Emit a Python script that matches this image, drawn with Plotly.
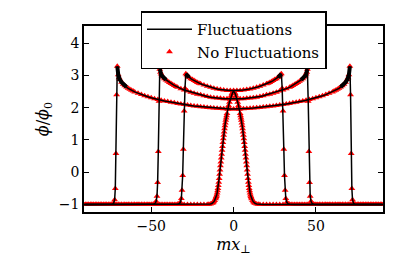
import plotly.graph_objects as go

# Half profiles (x >= 0), mirrored to negative x.
C0_X = [0, 0.5, 1, 1.5, 2, 2.5, 3, 3.5,
        4, 4.25, 4.5, 4.75, 5, 5.25, 5.5, 5.75, 6, 6.25, 6.5, 6.75, 7, 7.25, 7.5, 7.75,
        8, 8.25, 8.5, 8.75, 9, 9.25, 9.5, 9.75, 10, 10.25, 10.5, 10.75, 11,
        11.5, 12, 12.5, 13, 14, 15, 16,
        18, 20, 22, 24, 26, 28, 30, 32, 34, 36, 38, 40, 42, 44, 46, 48, 50, 52, 54,
        56, 58, 60, 62, 64, 66, 68, 70, 72, 74, 76, 78, 80, 82, 84, 86, 88, 90]
C0_Y = [2.50, 2.48, 2.43, 2.36, 2.27, 2.17, 2.07, 1.95,
        1.82, 1.75, 1.68, 1.61, 1.53, 1.44, 1.35, 1.25, 1.15, 1.04, 0.92, 0.80, 0.68, 0.56, 0.44, 0.32,
        0.20, 0.07, -0.06, -0.19, -0.31, -0.41, -0.50, -0.57, -0.64, -0.70, -0.75, -0.79, -0.82,
        -0.87, -0.91, -0.94, -0.96, -0.98, -0.99, -1.0,
        -1.0, -1.0, -1.0, -1.0, -1.0, -1.0, -1.0, -1.0, -1.0, -1.0, -1.0, -1.0, -1.0, -1.0, -1.0, -1.0, -1.0, -1.0, -1.0,
        -1.0, -1.0, -1.0, -1.0, -1.0, -1.0, -1.0, -1.0, -1.0, -1.0, -1.0, -1.0, -1.0, -1.0, -1.0, -1.0, -1.0, -1.0]

R30_X = [0, 2, 4, 6, 8, 10, 12, 14, 16, 18, 20,
         21, 22, 23, 24, 25, 26, 27,
         27.5, 28, 28.5, 29.0,
         29.5, 30.0, 30.5, 30.9, 31.3, 31.7, 32.3, 33, 34, 35,
         37, 39, 41, 43, 45, 47, 49, 51, 53, 55, 57, 59, 61, 63, 65, 67, 69, 71, 73, 75,
         77, 79, 81, 83, 85, 87, 89, 91]
R30_Y = [2.53, 2.53, 2.535, 2.545, 2.56, 2.58, 2.60, 2.63, 2.665, 2.70, 2.74,
         2.76, 2.78, 2.81, 2.84, 2.87, 2.90, 2.94,
         2.96, 2.99, 3.02, 3.05,
         2.6, 1.9, 0.71, -0.1, -0.56, -0.81, -0.93, -0.97, -0.99, -1.0,
         -1.0, -1.0, -1.0, -1.0, -1.0, -1.0, -1.0, -1.0, -1.0, -1.0, -1.0, -1.0, -1.0, -1.0, -1.0, -1.0, -1.0, -1.0, -1.0, -1.0,
         -1.0, -1.0, -1.0, -1.0, -1.0, -1.0, -1.0, -1.0]

R45_X = [0, 2, 4, 6, 8, 10, 12, 14, 16, 18, 20, 22, 24, 26, 28, 30, 32, 34,
         35, 36, 37, 38, 39, 40, 41, 42, 43,
         43.5, 44, 44.4, 44.8,
         45.3, 45.7, 46.1, 46.5, 47.0, 47.6, 48.5,
         50, 52, 54, 56, 58, 60, 62, 64, 66, 68, 70, 72, 74, 76, 78, 80, 82, 84, 86, 88, 90]
R45_Y = [2.27, 2.27, 2.275, 2.28, 2.29, 2.30, 2.31, 2.325, 2.345, 2.37, 2.40, 2.42, 2.45, 2.48, 2.52, 2.55, 2.59, 2.63,
         2.66, 2.69, 2.72, 2.75, 2.78, 2.82, 2.86, 2.90, 2.95,
         2.99, 3.04, 3.10, 3.19,
         2.2, 0.64, -0.32, -0.74, -0.9, -0.96, -0.99,
         -1.0, -1.0, -1.0, -1.0, -1.0, -1.0, -1.0, -1.0, -1.0, -1.0, -1.0, -1.0, -1.0, -1.0, -1.0, -1.0, -1.0, -1.0, -1.0, -1.0, -1.0]

R72_X = [0, 2, 4, 6, 8, 10, 12, 14, 16, 18, 20, 22, 24, 26, 28, 30, 32, 34, 36, 38, 40,
         42, 44, 46, 48, 50, 52, 54, 56, 58, 60,
         61, 62, 63, 64, 65, 66, 67, 68, 69,
         69.5, 70, 70.6,
         71.0, 71.4, 71.8, 72.2, 72.8, 73.5,
         75, 77, 79, 81, 83, 85, 87, 89, 91]
R72_Y = [1.96, 1.96, 1.965, 1.97, 1.975, 1.98, 1.99, 2.0, 2.01, 2.02, 2.03, 2.045, 2.055, 2.07, 2.085, 2.10,
         2.115, 2.13, 2.15, 2.17, 2.19,
         2.21, 2.23, 2.255, 2.28, 2.31, 2.34, 2.37, 2.405, 2.45, 2.49,
         2.515, 2.54, 2.57, 2.60, 2.64, 2.68, 2.73, 2.79, 2.87,
         2.93, 3.02, 3.28,
         2.4, 0.58, -0.5, -0.85, -0.96, -0.99,
         -1.0, -1.0, -1.0, -1.0, -1.0, -1.0, -1.0, -1.0, -1.0]

X_TICKS = [-50, 0, 50]
Y_TICKS = [-1, 0, 1, 2, 3, 4]

PROFILES = [(C0_X, C0_Y), (R30_X, R30_Y), (R45_X, R45_Y), (R72_X, R72_Y)]
# how far inside each wall the fluctuating line looks thick (in x units)
BLOB_SPAN = [0, 2.5, 4, 6]


def mirror(xs, ys):
    return [-v for v in xs[:0:-1]] + list(xs), list(ys[:0:-1]) + list(ys)


line_x, line_y, mk_x, mk_y = [], [], [], []
blob_x, blob_y = [], []
for (xs, ys), span in zip(PROFILES, BLOB_SPAN):
    assert len(xs) == len(ys), (len(xs), len(ys))
    fx, fy = mirror(xs, ys)
    line_x += fx + [None]
    line_y += fy + [None]
    mk_x += fx
    mk_y += fy
    if span > 0:
        i_pk = max(range(len(ys)), key=lambda i: ys[i])
        xp = xs[i_pk]
        sel = [i for i in range(len(xs)) if xp - span <= xs[i] <= xp]
        for sgn in (1, -1):
            blob_x += [sgn * xs[i] for i in sel] + [None]
            blob_y += [ys[i] for i in sel] + [None]

FONT = "DejaVu Serif"

fig = go.Figure()
fig.add_trace(go.Scatter(
    x=mk_x, y=mk_y, mode="markers", name="No Fluctuations", legendrank=2,
    marker=dict(symbol="triangle-up", size=6, color="#ff0000", line=dict(width=0)),
))
fig.add_trace(go.Scatter(
    x=line_x, y=line_y, mode="lines", name="Fluctuations", legendrank=1,
    line=dict(color="black", width=1.5), legendgroup="fl",
))
fig.add_trace(go.Scatter(
    x=blob_x, y=blob_y, mode="lines", showlegend=False, legendgroup="fl",
    line=dict(color="black", width=4),
))

axis_common = dict(
    showgrid=False, zeroline=False, showline=True, linecolor="black", linewidth=1.5,
    mirror="ticks", ticks="inside", ticklen=5, tickwidth=1, tickcolor="black",
    tickfont=dict(family=FONT, size=14, color="black"),
)

fig.update_layout(
    width=399, height=268,
    margin=dict(l=84, r=16, t=26, b=56),
    paper_bgcolor="white", plot_bgcolor="white",
    xaxis=dict(range=[-90.8, 90.7], tickvals=X_TICKS,
               title=dict(text="<i>mx</i><sub>⊥</sub>", font=dict(family=FONT, size=16, color="black"), standoff=6),
               **axis_common),
    yaxis=dict(range=[-1.23, 4.53], tickvals=Y_TICKS,
               title=dict(text="<i>ϕ</i>/<i>ϕ</i><sub>0</sub>", font=dict(family=FONT, size=16, color="black"), standoff=6),
               **axis_common),
    legend=dict(x=0.5, xanchor="center", y=1.078, yanchor="top",
                bgcolor="white", bordercolor="black", borderwidth=1.5,
                font=dict(family=FONT, size=15, color="black"),
                itemwidth=45, tracegroupgap=0),
    showlegend=True,
)

fig.write_html("out.html", config={"displayModeBar": False},
               post_script="document.body.style.margin='0px';")
